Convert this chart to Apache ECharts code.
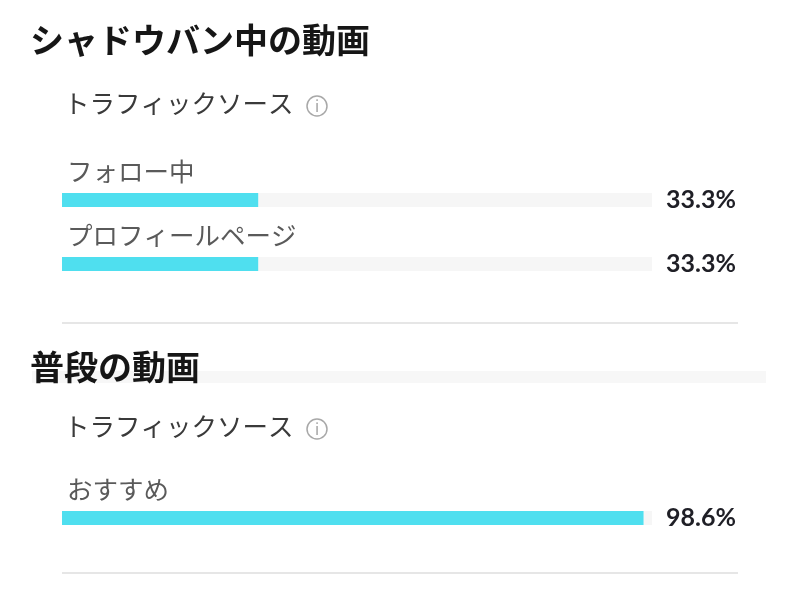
<!DOCTYPE html>
<html>
<head>
<meta charset="utf-8">
<script src="https://cdn.jsdelivr.net/npm/echarts@6/dist/echarts.min.js"></script>
<style>
  html, body { margin: 0; padding: 0; background: #fff; }
  #main { width: 800px; height: 600px; }
</style>
</head>
<body>
<div id="main"></div>
<script>
// セクション見出し
var sectionTitles = ['シャドウバン中の動画', '普段の動画'];
var subTitle = 'トラフィックソース';
// トラフィックソース（%）
var shadowCategories = ['フォロー中', 'プロフィールページ'];
var shadowValues = [33.3, 33.3];
var normalCategories = ['おすすめ'];
var normalValues = [98.6];

var FONT = '"Noto Sans CJK JP", "Noto Sans", sans-serif';
var NUM_FONT = 'Lato, "Noto Sans", sans-serif';
var barColor = '#4fdfef';
var trackColor = '#f6f6f6';

// 1本ずつgridを作る
var rows = [];
shadowCategories.forEach(function (c, i) {
	rows.push({ name: c, value: shadowValues[i], top: [193, 257][i] });
});
normalCategories.forEach(function (c, i) {
	rows.push({ name: c, value: normalValues[i], top: 511 });
});

var grids = [], xAxes = [], yAxes = [], series = [];
rows.forEach(function (r, i) {
	grids.push({ left: 62, width: 590, top: r.top, height: 14 });
	xAxes.push({ type: 'value', gridIndex: i, min: 0, max: 100, show: false });
	yAxes.push({ type: 'category', gridIndex: i, data: [r.name], show: false });
	series.push({
		type: 'bar', xAxisIndex: i, yAxisIndex: i, stack: 's' + i,
		barWidth: 14, silent: true,
		data: [r.value],
		itemStyle: { color: barColor },
		label: {
			show: true, position: [5, -22], formatter: '{b}',
			verticalAlign: 'middle', align: 'left',
			fontFamily: FONT, fontSize: 25.5, color: '#5a5a5a'
		}
	});
	series.push({
		type: 'bar', xAxisIndex: i, yAxisIndex: i, stack: 's' + i,
		barWidth: 14, silent: true,
		data: [+(100 - r.value).toFixed(1)],
		itemStyle: { color: trackColor },
		label: {
			show: true, position: 'right', distance: 14,
			formatter: function () { return r.value.toFixed(1) + '%'; },
			fontFamily: NUM_FONT, fontSize: 25, fontWeight: 'bold', color: '#1f1f26'
		}
	});
});

function infoIcon(cx, cy) {
	return [{
		type: 'circle', shape: { cx: cx, cy: cy, r: 10 },
		style: { fill: 'none', stroke: '#a8a8a8', lineWidth: 1.5 }
	}, {
		type: 'text', x: cx, y: cy,
		style: { text: 'i', fill: '#a0a0a0', font: '15px ' + FONT, align: 'center', verticalAlign: 'middle' }
	}];
}

var graphics = [
	{ type: 'rect', shape: { x: 32, y: 371, width: 734, height: 12 }, style: { fill: '#f7f7f7' } },
	{ type: 'line', shape: { x1: 62, y1: 323, x2: 738, y2: 323 }, style: { stroke: '#e6e6e6', lineWidth: 2 } },
	{ type: 'line', shape: { x1: 62, y1: 573, x2: 738, y2: 573 }, style: { stroke: '#e6e6e6', lineWidth: 2 } }
].concat(infoIcon(317, 106), infoIcon(317, 429));

var chart = echarts.init(document.getElementById('main'));
chart.setOption({
	backgroundColor: '#fff',
	animation: false,
	title: [
		{ text: sectionTitles[0], left: 30, top: 23, padding: 0, textStyle: { fontFamily: FONT, fontSize: 34, fontWeight: 'bold', color: '#161616' } },
		{ text: subTitle, left: 64, top: 91, padding: 0, textStyle: { fontFamily: FONT, fontSize: 25.5, fontWeight: 'normal', color: '#3a3a3a' } },
		{ text: sectionTitles[1], left: 30, top: 350, padding: 0, textStyle: { fontFamily: FONT, fontSize: 34, fontWeight: 'bold', color: '#161616' } },
		{ text: subTitle, left: 64, top: 414, padding: 0, textStyle: { fontFamily: FONT, fontSize: 25.5, fontWeight: 'normal', color: '#3a3a3a' } }
	],
	grid: grids,
	xAxis: xAxes,
	yAxis: yAxes,
	series: series,
	graphic: graphics
});
</script>
</body>
</html>
